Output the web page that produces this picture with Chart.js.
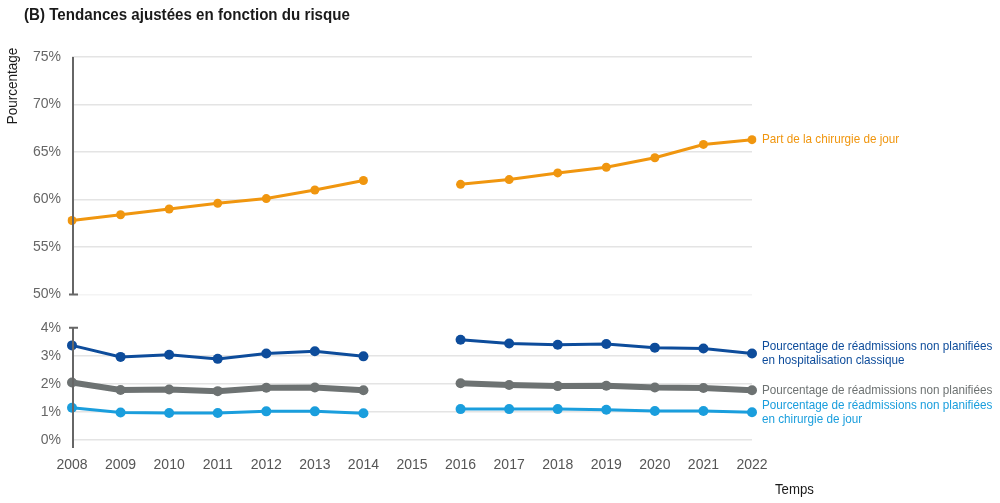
<!DOCTYPE html>
<html lang="fr">
<head>
<meta charset="utf-8">
<script src="https://cdn.jsdelivr.net/npm/chart.js@4.4.1/dist/chart.umd.min.js"></script>
<style>
  html, body { margin: 0; padding: 0; background: #fff; }
  #wrap { position: relative; width: 1000px; height: 503px; }
</style>
</head>
<body>
<div id="wrap"><canvas id="chart"></canvas></div>
<script>
// Data (2015 is missing)
const years = ['2008', '2009', '2010', '2011', '2012', '2013', '2014', '2015',
               '2016', '2017', '2018', '2019', '2020', '2021', '2022'];
const partChirurgieJour = [57.8, 58.4, 59.0, 59.6, 60.1, 61.0, 62.0, null,
                           61.6, 62.1, 62.8, 63.4, 64.4, 65.8, 66.3];
const readmHospClassique = [3.37, 2.96, 3.04, 2.89, 3.08, 3.16, 2.98, null,
                            3.57, 3.44, 3.39, 3.42, 3.29, 3.26, 3.08];
const readmTotal = [2.05, 1.78, 1.80, 1.74, 1.86, 1.87, 1.77, null,
                    2.02, 1.96, 1.92, 1.93, 1.87, 1.85, 1.77];
const readmChirurgieJour = [1.15, 0.98, 0.96, 0.96, 1.02, 1.02, 0.95, null,
                            1.10, 1.10, 1.10, 1.08, 1.03, 1.03, 0.99];
const lowerTicks = [0, 1, 2, 3, 4];
const upperTicks = [50, 55, 60, 65, 70, 75];
const seriesLabels = [
    ['Part de la chirurgie de jour'],
    ['Pourcentage de réadmissions non planifiées', 'en hospitalisation classique'],
    ['Pourcentage de réadmissions non planifiées'],
    ['Pourcentage de réadmissions non planifiées', 'en chirurgie de jour']
];
const seriesColors = ['#f0960f', '#0d4c9b', '#6d7272', '#1a9edd'];

const FONT = "'Liberation Sans', Arial, sans-serif";
Chart.defaults.font.family = FONT;

function gridColor(ctx) {
    const v = ctx.tick && ctx.tick.value;
    if (v === 4) return 'rgba(0,0,0,0)';
    if (v === 50) return '#f4f4f4';
    return '#e4e4e4';
}

// narrow text: draw with a horizontal squeeze
function narrowText(c, text, x, y, sx) {
    c.save();
    c.translate(x, y);
    c.scale(sx, 1);
    c.fillText(text, 0, 0);
    c.restore();
}

// Axis segments, titles and end-of-line labels
const decorations = {
    id: 'decorations',
    afterDatasetsDraw(chart) {
        const c = chart.ctx;
        const area = chart.chartArea;
        const lo = chart.scales.y;
        const hi = chart.scales.y2;
        const ax = area.left + 1;

        c.save();
        c.strokeStyle = '#666';
        c.lineWidth = 2;
        c.beginPath();
        // upper axis: 75% to 50% with cap at 50%
        c.moveTo(ax, hi.getPixelForValue(75));
        c.lineTo(ax, hi.getPixelForValue(50));
        c.moveTo(ax - 4, hi.getPixelForValue(50));
        c.lineTo(ax + 5, hi.getPixelForValue(50));
        // lower axis: 4% down past 0% with cap at 4%
        c.moveTo(ax, lo.getPixelForValue(4));
        c.lineTo(ax, lo.getPixelForValue(0) + 8);
        c.moveTo(ax - 4, lo.getPixelForValue(4));
        c.lineTo(ax + 5, lo.getPixelForValue(4));
        c.stroke();

        // end-of-line labels
        c.font = '13px ' + FONT;
        c.textBaseline = 'middle';
        c.textAlign = 'left';
        seriesLabels.forEach(function(lines, i) {
            const pts = chart.getDatasetMeta(i).data;
            const last = pts[pts.length - 1];
            const top = last.y - (lines.length - 1) * 7;
            c.fillStyle = seriesColors[i];
            lines.forEach(function(line, k) {
                narrowText(c, line, area.right + 10, top + k * 14, 0.9);
            });
        });

        // chart title
        c.fillStyle = '#1a1a1a';
        c.font = 'bold 17px ' + FONT;
        narrowText(c, '(B) Tendances ajustées en fonction du risque', 24, 15, 0.89);

        // axis titles
        c.font = '15px ' + FONT;
        narrowText(c, 'Temps', 775, 490, 0.88);
        c.translate(13, 86);
        c.rotate(-Math.PI / 2);
        c.textAlign = 'center';
        narrowText(c, 'Pourcentage', 0, 0, 0.9);
        c.restore();
    }
};

const yTickStyle = {
    color: '#666',
    font: { size: 14 },
    padding: 11,
    callback: function(v) { return v + '%'; }
};

new Chart(document.getElementById('chart'), {
    type: 'line',
    data: {
        labels: years,
        datasets: [
            { data: partChirurgieJour, yAxisID: 'y2', borderColor: seriesColors[0], backgroundColor: seriesColors[0],
              borderWidth: 3, pointRadius: 4.5, pointBorderWidth: 0 },
            { data: readmHospClassique, yAxisID: 'y', borderColor: seriesColors[1], backgroundColor: seriesColors[1],
              borderWidth: 3, pointRadius: 5, pointBorderWidth: 0 },
            { data: readmTotal, yAxisID: 'y', borderColor: seriesColors[2], backgroundColor: seriesColors[2],
              borderWidth: 6, pointRadius: 5, pointBorderWidth: 0 },
            { data: readmChirurgieJour, yAxisID: 'y', borderColor: seriesColors[3], backgroundColor: seriesColors[3],
              borderWidth: 3, pointRadius: 5, pointBorderWidth: 0 }
        ]
    },
    options: {
        responsive: true,
        maintainAspectRatio: false,
        animation: false,
        spanGaps: false,
        layout: { padding: { top: 57, right: 248, bottom: 23, left: 0 } },
        plugins: {
            legend: { display: false },
            tooltip: { enabled: false }
        },
        scales: {
            x: {
                type: 'category',
                offset: false,
                grid: { display: false },
                border: { display: false },
                ticks: { color: '#555', font: { size: 14 }, padding: 9, maxRotation: 0, autoSkip: false },
                afterFit: function(s) { s.height = 40; }
            },
            y: {
                type: 'linear',
                position: 'left',
                stack: 'pct',
                stackWeight: 145.3,
                min: 0,
                max: 5.18,
                afterBuildTicks: function(s) { s.ticks = lowerTicks.map(v => ({ value: v })); },
                afterFit: function(s) { s.width = 72; },
                grid: { drawTicks: false, color: gridColor, lineWidth: 1.5 },
                border: { display: false },
                ticks: yTickStyle
            },
            y2: {
                type: 'linear',
                position: 'left',
                stack: 'pct',
                stackWeight: 237.4,
                min: 50,
                max: 75,
                afterBuildTicks: function(s) { s.ticks = upperTicks.map(v => ({ value: v })); },
                afterFit: function(s) { s.width = 72; },
                grid: { drawTicks: false, color: gridColor, lineWidth: 1.5 },
                border: { display: false },
                ticks: yTickStyle
            }
        }
    },
    plugins: [decorations]
});
</script>
</body>
</html>
